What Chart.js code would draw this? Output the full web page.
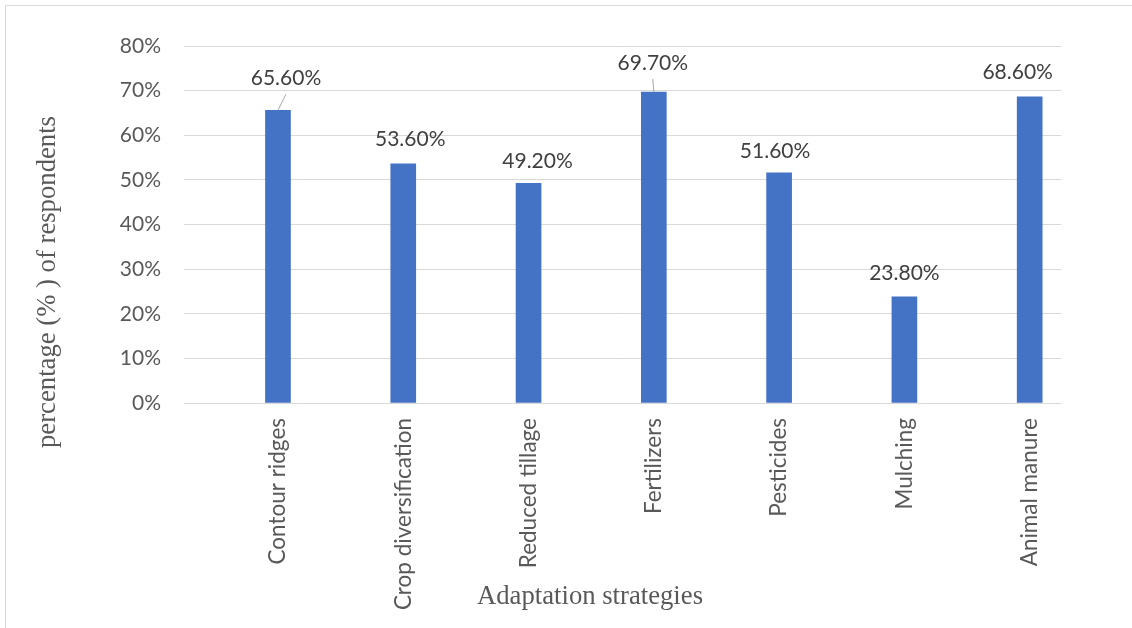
<!DOCTYPE html>
<html>
  <head>
    <script src="https://cdn.jsdelivr.net/npm/chart.js@4.4.1/dist/chart.umd.min.js"></script>
    <style>
      body { margin: 0; background: #fff; }
    </style>
  </head>
  <body>
    <canvas id="strategies-chart" width="1132" height="628"></canvas>
    <script>
      // DATA

      const strategies = [
        "Contour ridges",
        "Crop diversification",
        "Reduced tillage",
        "Fertilizers",
        "Pesticides",
        "Mulching",
        "Animal manure",
      ];
      const respondentShare = [65.6, 53.6, 49.2, 69.7, 51.6, 23.8, 68.6];
      const percentTicks = [0, 10, 20, 30, 40, 50, 60, 70, 80];

      const yTitle = "percentage (% ) of respondents";
      const xTitle = "Adaptation strategies";

      const textGrey = "#595959";
      const tickFont = { family: "Lato", size: 21 };
      const categoryFont = { family: "Lato", size: 22.5 };
      const titleFont = "26.7px 'Liberation Serif'";

      // label placement relative to the top of each bar: [dx, dy, leader line]
      const labelPlacement = [
        [8, -32, true],
        [7, -25, false],
        [9, -22, false],
        [-1, -29, true],
        [-4, -22, false],
        [0, -24, false],
        [-12, -25, false],
      ];

      // PLUGINS

      const frame = {
        id: "frame",
        beforeDraw(chart) {
          const ctx = chart.ctx;
          ctx.save();
          ctx.strokeStyle = "#d9d9d9";
          ctx.lineWidth = 1;
          ctx.beginPath();
          ctx.moveTo(5.5, chart.height);
          ctx.lineTo(5.5, 5.5);
          ctx.lineTo(chart.width, 5.5);
          ctx.stroke();
          ctx.restore();
        },
      };

      const valueLabels = {
        id: "valueLabels",
        afterDatasetsDraw(chart) {
          const ctx = chart.ctx;
          const bars = chart.getDatasetMeta(0).data;
          ctx.save();
          ctx.font = "21px Lato";
          ctx.textAlign = "center";
          ctx.textBaseline = "middle";
          bars.forEach(function (bar, i) {
            const [dx, dy, leader] = labelPlacement[i];
            const cx = bar.x + dx;
            const cy = bar.y + dy;
            if (leader) {
              ctx.strokeStyle = "#a6a6a6";
              ctx.lineWidth = 1;
              ctx.beginPath();
              ctx.moveTo(bar.x, bar.y);
              ctx.lineTo(cx, cy + 16);
              ctx.stroke();
            }
            ctx.fillStyle = "#404040";
            ctx.fillText(respondentShare[i].toFixed(2) + "%", cx, cy);
          });
          ctx.restore();
        },
      };

      const axisTitles = {
        id: "axisTitles",
        afterDraw(chart) {
          const ctx = chart.ctx;
          const area = chart.chartArea;
          ctx.save();
          ctx.font = titleFont;
          ctx.fillStyle = textGrey;
          ctx.textAlign = "center";
          ctx.textBaseline = "middle";
          ctx.fillText(xTitle, area.left + 406, area.bottom + 194);
          ctx.translate(area.left - 136, area.bottom - 121);
          ctx.rotate(-Math.PI / 2);
          ctx.fillText(yTitle, 0, 0);
          ctx.restore();
        },
      };

      // CHART

      const ctx = document.getElementById("strategies-chart").getContext("2d");
      new Chart(ctx, {
        type: "bar",
        data: {
          datasets: [
            {
              data: respondentShare.map(function (v, i) {
                return { x: i, y: v };
              }),
              backgroundColor: "#4472c4",
              barThickness: 25,
            },
          ],
        },
        options: {
          responsive: false,
          animation: false,
          layout: { padding: { top: 46, right: 71, left: 0, bottom: 0 } },
          plugins: {
            legend: { display: false },
            tooltip: { enabled: false },
          },
          scales: {
            x: {
              type: "linear",
              offset: false,
              min: -0.75,
              max: strategies.length - 0.75,
              afterBuildTicks(scale) {
                scale.ticks = strategies.map(function (s, i) {
                  return { value: i };
                });
              },
              afterFit(scale) {
                scale.height = 225;
              },
              grid: { display: false },
              border: { display: false },
              ticks: {
                autoSkip: false,
                minRotation: 90,
                maxRotation: 90,
                padding: 7,
                color: textGrey,
                font: categoryFont,
                callback: function (v) {
                  return strategies[v];
                },
              },
            },
            y: {
              min: 0,
              max: 80,
              afterBuildTicks(scale) {
                scale.ticks = percentTicks.map(function (v) {
                  return { value: v };
                });
              },
              afterFit(scale) {
                scale.width = 184;
              },
              grid: { color: "#d9d9d9", drawTicks: false },
              border: { display: false },
              ticks: {
                padding: 23,
                color: textGrey,
                font: tickFont,
                callback: function (v) {
                  return v + "%";
                },
              },
            },
          },
        },
        plugins: [frame, valueLabels, axisTitles],
      });
    </script>
  </body>
</html>
